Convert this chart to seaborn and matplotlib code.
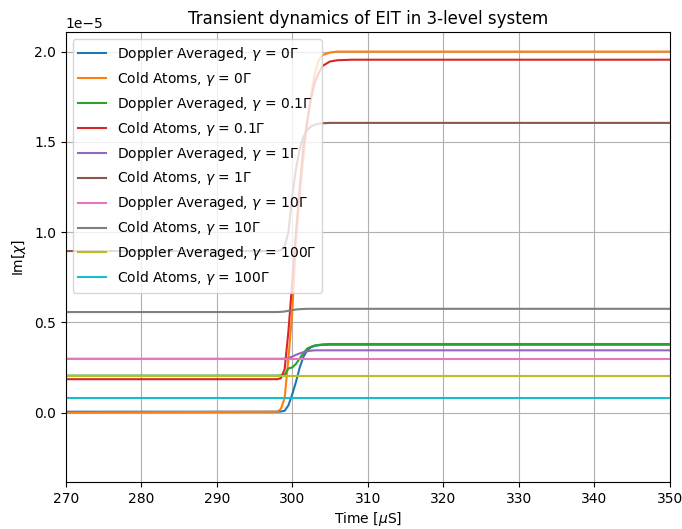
import matplotlib
matplotlib.use("Agg")
import matplotlib.pyplot as plt
import seaborn as sns
import numpy as np
import pandas as pd

# Values (y in units of 1e-5)
time = [270, 298, 298.5, 299, 299.5, 300, 300.5, 301, 301.5, 302, 302.5, 303, 303.5, 304, 305, 306, 308, 350]

doppler_0 = [0.005, 0.005, 0.006, 0.01, 0.04, 0.10, 0.17, 0.25, 0.31, 0.345, 0.362, 0.370, 0.373, 0.375, 0.376, 0.376, 0.376, 0.376]
cold_0 = [0.0, 0.005, 0.02, 0.08, 0.30, 0.55, 0.95, 1.20, 1.42, 1.60, 1.76, 1.88, 1.95, 1.98, 1.995, 2.0, 2.0, 2.0]
doppler_01 = [0.205, 0.205, 0.206, 0.21, 0.245, 0.25, 0.27, 0.30, 0.33, 0.355, 0.365, 0.372, 0.375, 0.378, 0.38, 0.38, 0.38, 0.38]
cold_01 = [0.185, 0.185, 0.19, 0.24, 0.45, 0.72, 1.0, 1.25, 1.48, 1.62, 1.74, 1.83, 1.88, 1.92, 1.945, 1.952, 1.955, 1.955]
doppler_1 = [0.298, 0.298, 0.298, 0.299, 0.302, 0.31, 0.32, 0.328, 0.335, 0.34, 0.343, 0.345, 0.345, 0.345, 0.345, 0.345, 0.345, 0.345]
cold_1 = [0.895, 0.895, 0.90, 0.92, 1.0, 1.2, 1.35, 1.46, 1.53, 1.565, 1.585, 1.595, 1.60, 1.603, 1.605, 1.605, 1.605, 1.605]
doppler_10 = [0.296] * 18
cold_10 = [0.557, 0.557, 0.558, 0.560, 0.564, 0.568, 0.571, 0.573, 0.574, 0.575, 0.575, 0.575, 0.575, 0.575, 0.575, 0.575, 0.575, 0.575]
doppler_100 = [0.200] * 18
cold_100 = [0.080] * 18

labels = [
    r"Doppler Averaged, $\gamma$ = 0$\Gamma$",
    r"Cold Atoms, $\gamma$ = 0$\Gamma$",
    r"Doppler Averaged, $\gamma$ = 0.1$\Gamma$",
    r"Cold Atoms, $\gamma$ = 0.1$\Gamma$",
    r"Doppler Averaged, $\gamma$ = 1$\Gamma$",
    r"Cold Atoms, $\gamma$ = 1$\Gamma$",
    r"Doppler Averaged, $\gamma$ = 10$\Gamma$",
    r"Cold Atoms, $\gamma$ = 10$\Gamma$",
    r"Doppler Averaged, $\gamma$ = 100$\Gamma$",
    r"Cold Atoms, $\gamma$ = 100$\Gamma$",
]
series = [doppler_0, cold_0, doppler_01, cold_01, doppler_1, cold_1,
          doppler_10, cold_10, doppler_100, cold_100]
scale = 1e-5

colors = sns.color_palette("tab10", 10)

fig = plt.figure(figsize=(6.82, 5.29), dpi=100)
ax = fig.add_axes([0.0963, 0.0880, 0.982 - 0.0963, 0.939 - 0.0880])

for lab, vals, col in zip(labels, series, colors):
    sns.lineplot(x=time, y=np.array(vals) * scale, ax=ax, color=col,
                 label=lab, linewidth=1.5, estimator=None)

ax.set_xlim(270, 350)
ax.set_ylim(-0.387e-5, 2.107e-5)
ax.set_xticks(np.arange(270, 351, 10))
ax.set_yticks(np.array([0.0, 0.5, 1.0, 1.5, 2.0]) * scale)
ax.grid(True)
ax.set_title("Transient dynamics of EIT in 3-level system")
ax.set_xlabel(r"Time [$\mu$S]", labelpad=2.5)
ax.set_ylabel(r"Im[$\chi$]")
ax.legend(loc="upper left")

fig.savefig("out.png", dpi=100)
